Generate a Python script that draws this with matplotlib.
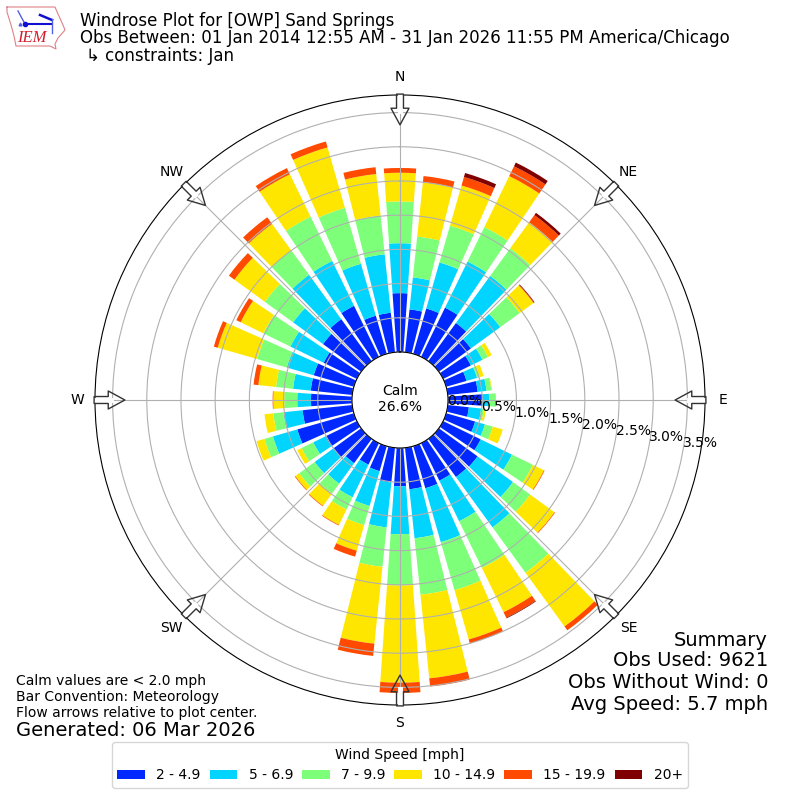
import numpy as np
import matplotlib
matplotlib.use("Agg")
import matplotlib.pyplot as plt
from matplotlib.patches import Patch

directions = np.arange(0, 360, 10)

# percent of obs per direction, one list per speed bin
speed_2_5 = [.86,.63,.69,.80,.69,.58,.45,.31,.44,.50,.31,.44,.61,.70,.69,.61,.64,.61,
             .56,.51,.38,.35,.44,.50,.51,.86,.73,.60,.61,.61,.54,.69,.76,.83,.58,.58]
speed_5_7 = [.73,.47,.70,.75,.85,.53,.19,.16,.13,.10,.18,.15,.51,.64,.91,.66,.82,.72,
             .70,.66,.53,.53,.37,.34,.20,.37,.28,.20,.26,.41,.54,.54,.80,.73,.79,.86]
speed_7_10 = [.61,.60,.56,.56,.50,.35,.09,.04,.07,.10,.04,.12,.34,.31,.82,.76,.73,.83,
              .75,.58,.29,.20,.18,.28,.19,.13,.15,.19,.25,.45,.44,.51,.44,.72,.85,.57]
speed_10_15 = [.42,.80,.61,.83,.47,.25,.06,.06,.01,0,.03,.15,.18,.44,.97,.72,.75,1.23,
               1.42,1.13,.39,.25,.22,.07,.07,.12,.13,.16,.26,.60,.37,.55,.48,.69,.92,.61]
speed_15_20 = [.07,.09,.13,.16,.13,.01,0,0,0,0,0,0,.01,.01,.07,.09,.06,.12,
               .15,.18,.09,.01,.01,.01,0,0,0,.01,.07,.06,.07,.10,.12,.10,.09,.10]
speed_20 = [0,0,.06,.06,.04,.01,0,0,0,0,0,0,0,0,0,.01,0,0,
            0,0,0,0,0,0,0,0,0,0,0,0,0,0,0,0,0,0]

bins = [speed_2_5, speed_5_7, speed_7_10, speed_10_15, speed_15_20, speed_20]
bin_labels = ["2 - 4.9", "5 - 6.9", "7 - 9.9", "10 - 14.9", "15 - 19.9", "20+"]
bin_colors = ["#0028ff", "#00d4ff", "#7dff7a", "#ffe600", "#ff4a00", "#7f0000"]

rticks = [0, .5, 1, 1.5, 2, 2.5, 3, 3.5]
compass = ["N", "NE", "E", "SE", "S", "SW", "W", "NW"]

fig = plt.figure(figsize=(8, 8), dpi=100)
ax = fig.add_axes([95 / 800, 95 / 800, 610 / 800, 610 / 800], projection="polar")
ax.set_theta_zero_location("N")
ax.set_theta_direction(-1)

theta = np.radians(directions)
bottom = np.zeros(len(directions))
for vals, color in zip(bins, bin_colors):
    ax.bar(theta, vals, width=np.radians(8), bottom=bottom, color=color, linewidth=0)
    bottom = bottom + np.array(vals)

ax.set_rorigin(-0.702)
ax.set_ylim(0, 3.757)
ax.set_rticks(rticks)
ax.set_yticklabels([f"{v:.1f}%" for v in rticks])
ax.set_rlabel_position(100)
ax.set_thetagrids(np.arange(0, 360, 45), compass)
ax.tick_params(axis="x", pad=2.5)
ax.grid(True, color="#b0b0b0", linewidth=0.8)

# flow arrows, tail on the outer edge
for ang in np.arange(0, 360, 45):
    t = np.radians(ang)
    ax.plot([t, t], [3.53, 3.757], color="white", linewidth=3.5, zorder=2.9, clip_on=False)
    ax.annotate("", xy=(t, 3.32), xytext=(t, 3.77), xycoords="data", textcoords="data",
                annotation_clip=False,
                arrowprops=dict(facecolor="none", edgecolor="#333333", width=5, headwidth=13,
                                headlength=12, shrink=0, linewidth=1))
ax.set_ylim(0, 3.757)

fig.text(80 / 800, 1 - 21 / 800, "Windrose Plot for [OWP] Sand Springs", fontsize=12, va="center")
fig.text(80 / 800, 1 - 38 / 800, "Obs Between: 01 Jan 2014 12:55 AM - 31 Jan 2026 11:55 PM America/Chicago",
         fontsize=12, va="center")
fig.text(86 / 800, 1 - 56 / 800, "↳ constraints: Jan", fontsize=12, va="center")

fig.text(400 / 800, 1 - 399 / 800, "Calm\n26.6%", ha="center", va="center", fontsize=10)

fig.text(16 / 800, 1 - 681 / 800, "Calm values are < 2.0 mph", fontsize=10, va="center")
fig.text(16 / 800, 1 - 697 / 800, "Bar Convention: Meteorology", fontsize=10, va="center")
fig.text(16 / 800, 1 - 713 / 800, "Flow arrows relative to plot center.", fontsize=10, va="center")
fig.text(16 / 800, 1 - 730 / 800, "Generated: 06 Mar 2026", fontsize=14, va="center")

for y, s in zip([640, 661, 683, 705], ["Summary", "Obs Used: 9621", "Obs Without Wind: 0", "Avg Speed: 5.7 mph"]):
    fig.text(768 / 800, 1 - y / 800, s, fontsize=14, ha="right", va="center")

handles = [Patch(facecolor=c, label=l) for c, l in zip(bin_colors, bin_labels)]
fig.legend(handles=handles, title="Wind Speed [mph]", ncols=6, loc="center", columnspacing=0.65,
           bbox_to_anchor=(400 / 800, 1 - 765 / 800), fontsize=10, title_fontsize=10)

# rough IEM logo, axes in pixels
logo = fig.add_axes([0, 1 - 60 / 800, 75 / 800, 60 / 800])
logo.set_xlim(0, 75)
logo.set_ylim(60, 0)
logo.axis("off")
state_x = [7, 55, 58, 63, 65, 58, 55, 56, 50, 16, 14, 11, 7, 7]
state_y = [7, 7, 14, 25, 30, 38, 44, 49, 46, 46, 36, 25, 12, 7]
logo.plot(state_x, state_y, color="#e08088", linewidth=0.8)
logo.plot([25, 52], [24, 24], color="#1010d0", linewidth=1.5)
logo.plot([18, 25], [11, 24], color="#5060e0", linewidth=1)
logo.plot([40, 52], [15, 20], color="#1010d0", linewidth=1.8)
logo.plot([52, 52], [19, 33], color="#5060e0", linewidth=1)
logo.plot([25], [24], "o", color="#1010d0", markersize=3)
logo.plot([20], [24], "^", color="#5060e0", markersize=2)
logo.text(17, 38, "IEM", family="Liberation Serif", style="italic", color="#d02030",
          fontsize=12, va="center")

fig.savefig("out.png", dpi=100)
